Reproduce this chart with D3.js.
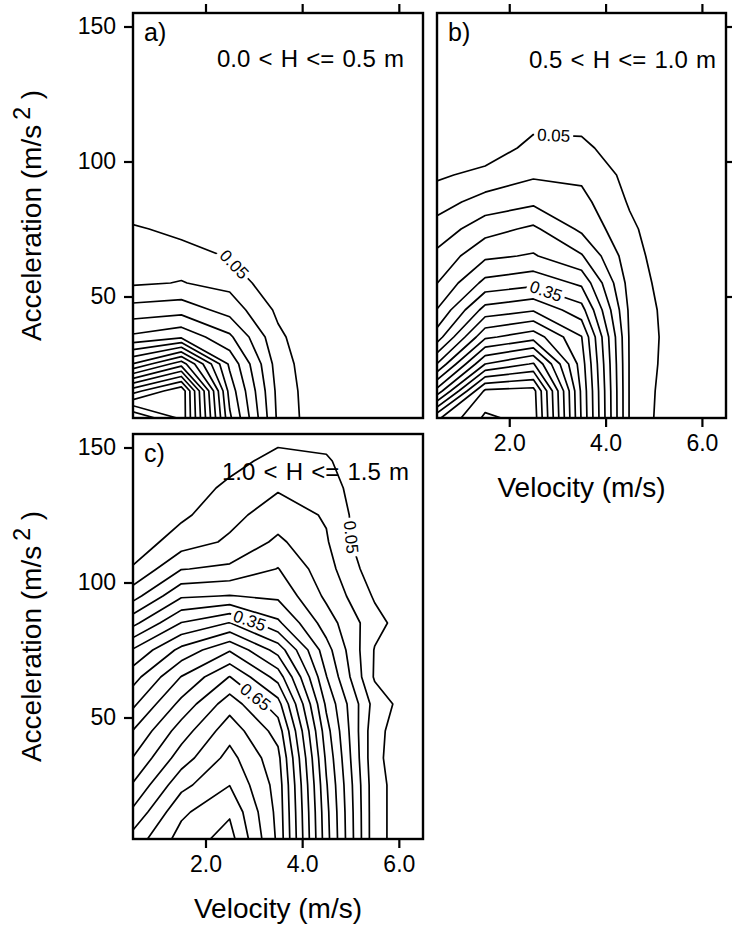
<!DOCTYPE html>
<meta charset="utf-8">
<title>Velocity / acceleration contours</title>
<style>
body {
  margin: 0;
  background: #fff;
}
svg {
  display: block;
  font-family: "Liberation Sans", Arial, Helvetica, sans-serif;
}
.frame {
  fill: none;
  stroke: #000;
  stroke-width: 2.4px;
}
.contour {
  fill: none;
  stroke: #000;
  stroke-width: 1.7px;
  stroke-linejoin: round;
}
.axis line {
  stroke: #000;
  stroke-width: 2.2px;
}
.axis text {
  font-size: 23px;
  fill: #000;
}
</style>
<svg width="732" height="926"></svg>
<script src="https://d3js.org/d3.v7.min.js"></script>
<script>
// grid nodes of the contoured field
var velocity = [0.5, 1.5, 2.5, 3.5, 4.5, 5.5, 6.5];
var acceleration = [5, 15, 25, 35, 45, 55, 65, 75, 85, 95, 105, 115, 125, 135, 145, 155];
var levels = [0.05, 0.1, 0.15, 0.2, 0.25, 0.3, 0.35, 0.4, 0.45, 0.5, 0.55, 0.6, 0.65, 0.7, 0.75, 0.8, 0.85, 0.9, 0.95];
var velocityTicks = [2, 4, 6];
var accelTicks = [50, 100, 150];

// a) 0.0 < H <= 0.5 m : one row per acceleration (5 .. 155), one column per velocity
var gridA = [
  [0.95, 0.84, 0.36, 0.09, 0, 0, 0],
  [0.73, 0.84, 0.33, 0.085, 0, 0, 0],
  [0.452, 0.58, 0.29, 0.075, 0, 0, 0],
  [0.26, 0.29, 0.21, 0.06, 0, 0, 0],
  [0.17, 0.18, 0.13, 0.04, 0, 0, 0],
  [0.093, 0.102, 0.085, 0.01, 0, 0, 0],
  [0.075, 0.08, 0.045, 0, 0, 0, 0],
  [0.06, 0.03, 0.01, 0, 0, 0, 0],
  [0, 0, 0, 0, 0, 0, 0],
  [0, 0, 0, 0, 0, 0, 0],
  [0, 0, 0, 0, 0, 0, 0],
  [0, 0, 0, 0, 0, 0, 0],
  [0, 0, 0, 0, 0, 0, 0],
  [0, 0, 0, 0, 0, 0, 0],
  [0, 0, 0, 0, 0, 0, 0],
  [0, 0, 0, 0, 0, 0, 0]
];

// b) 0.5 < H <= 1.0 m
var gridB = [
  [0.84, 0.96, 0.93, 0.495, 0.095, 0.005, 0],
  [0.618, 0.91, 0.92, 0.49, 0.095, 0.01, 0],
  [0.452, 0.70, 0.755, 0.475, 0.095, 0.018, 0],
  [0.325, 0.54, 0.58, 0.452, 0.094, 0.022, 0],
  [0.252, 0.42, 0.445, 0.37, 0.09, 0.02, 0],
  [0.199, 0.315, 0.335, 0.29, 0.08, 0.015, 0],
  [0.162, 0.24, 0.255, 0.205, 0.07, 0.01, 0],
  [0.12, 0.18, 0.21, 0.14, 0.06, 0.005, 0],
  [0.079, 0.12, 0.14, 0.115, 0.045, 0, 0],
  [0.042, 0.065, 0.093, 0.09, 0.035, 0, 0],
  [0.005, 0.02, 0.065, 0.065, 0.01, 0, 0],
  [0, 0, 0.035, 0.03, 0, 0, 0],
  [0, 0, 0.005, 0, 0, 0, 0],
  [0, 0, 0, 0, 0, 0, 0],
  [0, 0, 0, 0, 0, 0, 0],
  [0, 0, 0, 0, 0, 0, 0]
];

// c) 1.0 < H <= 1.5 m
var gridC = [
  [0.77, 0.87, 0.92, 0.74, 0.37, 0.067, 0],
  [0.71, 0.84, 0.893, 0.735, 0.365, 0.067, 0],
  [0.655, 0.785, 0.849, 0.73, 0.355, 0.067, 0],
  [0.602, 0.725, 0.8175, 0.715, 0.34, 0.061, 0],
  [0.552, 0.675, 0.78, 0.68, 0.32, 0.064, 0],
  [0.49, 0.615, 0.728, 0.62, 0.29, 0.08, 0],
  [0.43, 0.552, 0.652, 0.53, 0.252, 0.044, 0],
  [0.355, 0.465, 0.545, 0.43, 0.22, 0.047, 0],
  [0.235, 0.352, 0.402, 0.31, 0.175, 0.068, 0],
  [0.13, 0.243, 0.252, 0.24, 0.14, 0.044, 0],
  [0.055, 0.148, 0.16, 0.202, 0.12, 0.02, 0],
  [0.02, 0.075, 0.108, 0.16, 0.105, 0, 0],
  [0, 0.04, 0.085, 0.125, 0.095, 0, 0],
  [0, 0.0245, 0.06, 0.095, 0.077, 0, 0],
  [0, 0.005, 0.035, 0.065, 0.057, 0, 0],
  [0, 0, 0.01, 0.035, 0.029, 0, 0]
];

// inline contour labels: level and rough spot (velocity, acceleration)
var labelsA = [{level: 0.05, v: 2.57, acc: 61.5}];
var labelsB = [{level: 0.05, v: 2.92, acc: 108.8}, {level: 0.35, v: 2.84, acc: 55.9}];
var labelsC = [{level: 0.05, v: 5.14, acc: 117}, {level: 0.35, v: 2.92, acc: 86.3}, {level: 0.65, v: 3.09, acc: 58.9}];

var svg = d3.select("svg");

var panels = [
  {tag: "a)", range: "0.0 < H <= 0.5 m", grid: gridA, labels: labelsA,
   left: 133, right: 423, top: 13, bottom: 418, textX: 217, textY: 67,
   left_ax: true, top_ax: true, yTitle: true},
  {tag: "b)", range: "0.5 < H <= 1.0 m", grid: gridB, labels: labelsB,
   left: 437, right: 726, top: 13, bottom: 418, textX: 529, textY: 68,
   right_ax: true, top_ax: true, bottom_ax: true, xTitle: true},
  {tag: "c)", range: "1.0 < H <= 1.5 m", grid: gridC, labels: labelsC,
   left: 133, right: 423, top: 434, bottom: 839, textX: 222, textY: 480,
   left_ax: true, bottom_ax: true, yTitle: true, xTitle: true}
];

function cleanAxis(sel) {
  sel.select(".domain").remove();
  sel.attr("font-family", null).attr("font-size", null);
}

panels.forEach(function(p, i) {
  var x = d3.scaleLinear().domain([0.5, 6.5]).range([p.left, p.right]);
  var y = d3.scaleLinear().domain([5, 155]).range([p.bottom, p.top]);
  var g = svg.append("g");

  svg.append("clipPath").attr("id", "clip" + i)
    .append("rect")
      .attr("x", p.left).attr("y", p.top)
      .attr("width", p.right - p.left).attr("height", p.bottom - p.top);

  // grid coords -> pixels (node k sits at grid coordinate k + 0.5)
  var dv = velocity[1] - velocity[0], da = acceleration[1] - acceleration[0];
  function toPx(gx, gy) {
    return [x(velocity[0] + (gx - 0.5) * dv), y(acceleration[0] + (gy - 0.5) * da)];
  }
  var path = d3.geoPath(d3.geoTransform({point: function(gx, gy) {
    var q = toPx(gx, gy);
    this.stream.point(q[0], q[1]);
  }}));

  var values = [].concat.apply([], p.grid);
  var contours = d3.contours()
      .size([velocity.length, acceleration.length])
      .thresholds(levels)(values);

  g.append("g")
      .attr("clip-path", "url(#clip" + i + ")")
    .selectAll("path")
    .data(contours)
    .enter().append("path")
      .attr("class", "contour")
      .attr("d", path);

  // labels sit on their contour, turned along it, with a white gap under them
  p.labels.forEach(function(l) {
    var c = contours.filter(function(d) { return Math.abs(d.value - l.level) < 1e-6; })[0];
    var target = [x(l.v), y(l.acc)], best = null;
    c.coordinates.forEach(function(poly) {
      poly.forEach(function(ring) {
        for (var k = 1; k < ring.length; k++) {
          var a = toPx(ring[k - 1][0], ring[k - 1][1]), b = toPx(ring[k][0], ring[k][1]);
          var dx = b[0] - a[0], dy = b[1] - a[1], len2 = dx * dx + dy * dy;
          if (!len2) continue;
          var t = Math.max(0, Math.min(1, ((target[0] - a[0]) * dx + (target[1] - a[1]) * dy) / len2));
          var px = a[0] + t * dx, py = a[1] + t * dy;
          var dd = (px - target[0]) * (px - target[0]) + (py - target[1]) * (py - target[1]);
          if (!best || dd < best.d) best = {d: dd, x: px, y: py, ang: Math.atan2(dy, dx) * 180 / Math.PI};
        }
      });
    });
    var ang = best.ang;
    if (ang > 90) ang -= 180;
    if (ang < -90) ang += 180;
    var lg = g.append("g")
        .attr("transform", "translate(" + best.x + "," + best.y + ") rotate(" + ang + ")");
    var txt = lg.append("text")
        .attr("text-anchor", "middle")
        .attr("dy", "0.35em")
        .style("font-size", "17px")
        .text(d3.format(".2f")(l.level));
    var bb = txt.node().getBBox();
    lg.insert("rect", "text")
        .attr("x", bb.x - 3).attr("y", bb.y + 2)
        .attr("width", bb.width + 6).attr("height", bb.height - 4)
        .attr("fill", "#fff");
  });

  // axes
  if (p.left_ax) {
    g.append("g").attr("class", "axis")
        .attr("transform", "translate(" + p.left + ",0)")
        .call(d3.axisLeft(y).tickValues(accelTicks).tickSize(9).tickPadding(8).tickFormat(d3.format("d")))
        .call(cleanAxis);
  }
  if (p.right_ax) {
    g.append("g").attr("class", "axis")
        .attr("transform", "translate(" + p.right + ",0)")
        .call(d3.axisRight(y).tickValues(accelTicks).tickSize(9).tickFormat(""))
        .call(cleanAxis);
  }
  if (p.top_ax) {
    g.append("g").attr("class", "axis")
        .attr("transform", "translate(0," + p.top + ")")
        .call(d3.axisTop(x).tickValues(velocityTicks).tickSize(9).tickFormat(""))
        .call(cleanAxis);
  }
  if (p.bottom_ax) {
    g.append("g").attr("class", "axis")
        .attr("transform", "translate(0," + p.bottom + ")")
        .call(d3.axisBottom(x).tickValues(velocityTicks).tickSize(9).tickPadding(8).tickFormat(d3.format(".1f")))
        .call(cleanAxis);
  }

  g.append("rect")
      .attr("class", "frame")
      .attr("x", p.left).attr("y", p.top)
      .attr("width", p.right - p.left).attr("height", p.bottom - p.top);

  g.append("text")
      .attr("x", p.left + 11).attr("y", p.top + 28)
      .style("font-size", "25px")
      .text(p.tag);

  g.append("text")
      .attr("x", p.textX).attr("y", p.textY)
      .style("font-size", "24px")
      .style("word-spacing", "1.5px")
      .text(p.range);

  if (p.yTitle) {
    var yt = g.append("text")
        .attr("transform", "translate(41," + (p.top + p.bottom) / 2 + ") rotate(-90)")
        .attr("text-anchor", "middle")
        .style("font-size", "28px");
    yt.append("tspan").text("Acceleration (m/s");
    yt.append("tspan").attr("dx", 5).attr("dy", -11).style("font-size", "23px").text("2");
    yt.append("tspan").attr("dy", 11).text(" )");
  }
  if (p.xTitle) {
    g.append("text")
        .attr("x", (p.left + p.right) / 2).attr("y", p.bottom + 79)
        .attr("text-anchor", "middle")
        .style("font-size", "28px")
        .text("Velocity (m/s)");
  }
});
</script>
